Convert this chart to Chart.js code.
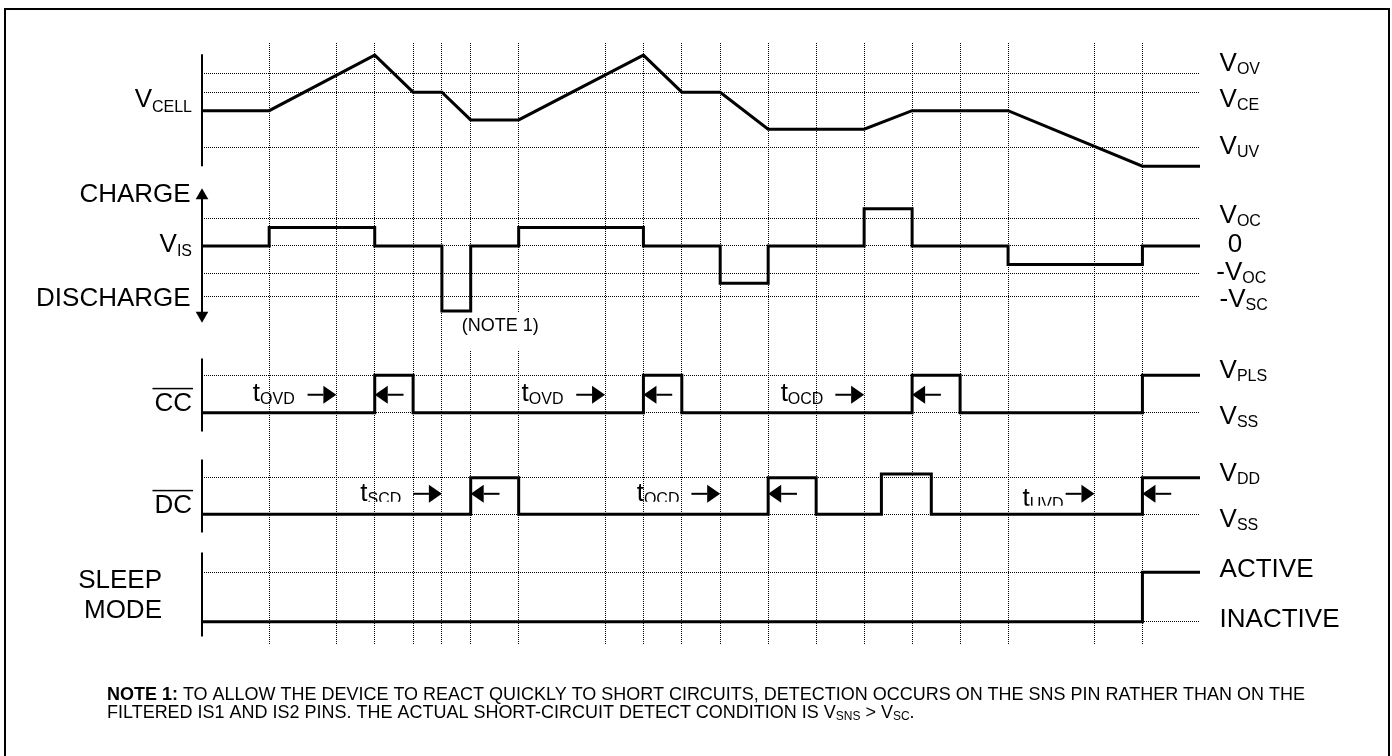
<!DOCTYPE html>
<html>
<head>
<meta charset="utf-8">
<script src="https://cdn.jsdelivr.net/npm/chart.js@4.4.1/dist/chart.umd.min.js"></script>
<style>
  html, body { margin: 0; padding: 0; background: #fff; overflow: hidden; }
  #wrap { position: relative; width: 1392px; height: 756px; }
  #frame { position: absolute; left: 4px; top: 8px; width: 1386px; height: 800px;
           border: 2px solid #000; box-sizing: border-box; pointer-events: none; }
</style>
</head>
<body>
<div id="wrap">
  <canvas id="timing" width="1392" height="756"></canvas>
  <div id="frame"></div>
</div>
<script>
// ---- time base (arbitrary time units) ----
const gridTimes = [7, 14, 18, 22, 25, 28, 33, 42, 46, 50, 54, 59, 64, 69, 74, 79, 84, 93, 98];
const timeEnd = 104;

// ---- V_CELL (piecewise linear) ----
const cellTimes  = [0, 7, 18, 22, 25, 28, 33, 46, 50, 54, 59, 69, 74, 84, 98, 104];
const cellLevels = [2, 2, 5, 3, 3, 1.5, 1.5, 5, 3, 3, 1, 1, 2, 2, -1, -1];
const cellRefLevels = [4, 3, 0];            // V_OV, V_CE, V_UV

// ---- V_IS (each level holds until the next time) ----
const isTimes  = [0, 7, 18, 25, 28, 33, 46, 54, 59, 69, 74, 84, 98, 104];
const isLevels = [0, 2, 0, -7, 0, 2, 0, -4, 0, 4, 0, -2, 0, 0];
const isRefLevels = [3, 0, -3, -5.4];       // V_OC, 0, -V_OC, -V_SC

// ---- logic outputs ----
const ccTimes  = [0, 18, 22, 46, 50, 74, 79, 98, 104];
const ccLevels = [0, 1, 0, 1, 0, 1, 0, 1, 1];
const dcTimes  = [0, 28, 33, 59, 64, 70.8, 76, 98, 104];
const dcLevels = [0, 1, 0, 1, 0, 1.1, 0, 1, 1];
const sleepTimes  = [0, 98, 104];
const sleepLevels = [0, 1, 1];
const logicRefLevels = [1, 0];

// ---- delay arrows [tail, tip] ----
const ccArrows = [[11, 14], [21, 18], [39, 42], [49, 46], [66, 69], [77, 74]];
const dcArrows = [[22, 25], [31, 28], [51, 54], [62, 59], [90, 93], [101, 98]];

// ---- delay labels ----
const ccDelayText  = [['t', 'OVD'], ['t', 'OVD'], ['t', 'OCD']];
const ccDelayTimes = [5.3, 33.3, 60.3];
const dcDelayText  = [['t', 'SCD'], ['t', 'OCD'], ['t', 'UVD']];
const dcDelayTimes = [16.5, 45.3, 85.5];

// ---- axis spans (panel units) ----
const cellAxisSpan  = [5.05, -1];
const isAxisSpan    = [5.43, -7.47];
const ccAxisSpan    = [1.45, -0.5];
const dcAxisSpan    = [1.5, -0.5];
const sleepAxisSpan = [1.4, -0.3];

const FONT = "'Liberation Sans', Arial, sans-serif";
const AREA = { top: 43, bottom: 645, left: 202, right: 1200 };

const leftLabels = [
  { axis: 'yCell', t: -1.04, level: 2.22, main: 'V', sub: 'CELL', subDy: 5 },
  { axis: 'yIs', t: -1.18, level: 4.76, main: 'CHARGE' },
  { axis: 'yIs', t: -1.04, level: -0.61, main: 'V', sub: 'IS', subDy: 4 },
  { axis: 'yIs', t: -1.18, level: -6.45, main: 'DISCHARGE' },
  { axis: 'yCc', t: -1.04, level: 0.05, main: 'CC', overline: true },
  { axis: 'yDc', t: -1.04, level: 0.04, main: 'DC', overline: true },
  { axis: 'ySleep', t: -4.17, level: 0.68, main: 'SLEEP' },
  { axis: 'ySleep', t: -4.17, level: 0.07, main: 'MODE' }
];

const rightLabels = [
  { axis: 'yCell', t: 106.04, level: 4.16, main: 'V', sub: 'OV' },
  { axis: 'yCell', t: 106.04, level: 2.18, main: 'V', sub: 'CE' },
  { axis: 'yCell', t: 106.04, level: -0.34, main: 'V', sub: 'UV' },
  { axis: 'yIs', t: 106.04, level: 2.44, main: 'V', sub: 'OC' },
  { axis: 'yIs', t: 106.9, level: -0.61, main: '0' },
  { axis: 'yIs', t: 105.7, level: -3.66, main: '-V', sub: 'OC' },
  { axis: 'yIs', t: 106.04, level: -6.53, main: '-V', sub: 'SC' },
  { axis: 'yCc', t: 106.04, level: 0.92, main: 'V', sub: 'PLS' },
  { axis: 'yCc', t: 106.04, level: -0.31, main: 'V', sub: 'SS' },
  { axis: 'yDc', t: 106.04, level: 0.92, main: 'V', sub: 'DD' },
  { axis: 'yDc', t: 106.04, level: -0.34, main: 'V', sub: 'SS' },
  { axis: 'ySleep', t: 106.04, level: 0.91, main: 'ACTIVE' },
  { axis: 'ySleep', t: 106.04, level: -0.10, main: 'INACTIVE' }
];

const noteLine1 = 'TO ALLOW THE DEVICE TO REACT QUICKLY TO SHORT CIRCUITS, DETECTION OCCURS ON THE SNS PIN RATHER THAN ON THE';
const noteLine2 = 'FILTERED IS1 AND IS2 PINS. THE ACTUAL SHORT-CIRCUIT DETECT CONDITION IS ';

function pts(times, levels) {
  return times.map((t, i) => ({ x: t, y: levels[i] }));
}

function panelScale(zeroPx, pxPerUnit, refLevels) {
  return {
    type: 'linear',
    position: 'left',
    display: true,
    min: -(AREA.bottom - zeroPx) / pxPerUnit,
    max: (zeroPx - AREA.top) / pxPerUnit,
    ticks: { display: false },
    grid: { color: '#000', lineWidth: 1, drawTicks: false },
    border: { display: false, dash: [1, 1] },
    afterBuildTicks: s => { s.ticks = refLevels.map(v => ({ value: v })); }
  };
}

function trace(data, axis, stepped) {
  return {
    data: data, yAxisID: axis, showLine: true, stepped: stepped || false,
    borderColor: '#000', borderWidth: 3, borderJoinStyle: 'miter',
    pointRadius: 0, clip: false
  };
}

function axisLine(span, axis) {
  return {
    data: [{ x: 0, y: span[0] }, { x: 0, y: span[1] }], yAxisID: axis, showLine: true,
    borderColor: '#000', borderWidth: 2, pointRadius: 0, clip: false
  };
}

// draws "main" + optional subscript, returns nothing
function drawLabel(ctx, x, y, lbl, align, size, subSize) {
  ctx.font = size + 'px ' + FONT;
  const wMain = ctx.measureText(lbl.main).width;
  ctx.font = subSize + 'px ' + FONT;
  const wSub = lbl.sub ? ctx.measureText(lbl.sub).width : 0;
  let x0 = align === 'right' ? x - wMain - wSub : x;
  ctx.textAlign = 'left';
  ctx.textBaseline = 'alphabetic';
  ctx.font = size + 'px ' + FONT;
  ctx.fillText(lbl.main, x0, y);
  if (lbl.sub) {
    ctx.font = subSize + 'px ' + FONT;
    ctx.fillText(lbl.sub, x0 + wMain, y + (lbl.subDy || 3));
  }
  if (lbl.overline) {
    ctx.fillRect(x0 - 2, y - 23, wMain + 3, 1.5);
  }
}

function arrow(ctx, x1, x2, y) {
  const dir = Math.sign(x2 - x1);
  const headLen = 13, headHalf = 9;
  ctx.lineWidth = 2;
  ctx.beginPath();
  ctx.moveTo(x1, y);
  ctx.lineTo(x2 - dir * headLen, y);
  ctx.stroke();
  ctx.beginPath();
  ctx.moveTo(x2, y);
  ctx.lineTo(x2 - dir * headLen, y - headHalf);
  ctx.lineTo(x2 - dir * headLen, y + headHalf);
  ctx.closePath();
  ctx.fill();
}

const annotate = {
  id: 'annotate',
  afterDatasetsDraw(chart) {
    const { ctx, scales } = chart;
    const xs = scales.x;
    ctx.save();
    ctx.fillStyle = '#000';
    ctx.strokeStyle = '#000';

    ccArrows.forEach(a => arrow(ctx, xs.getPixelForValue(a[0]), xs.getPixelForValue(a[1]), scales.yCc.getPixelForValue(0.48)));
    dcArrows.forEach(a => arrow(ctx, xs.getPixelForValue(a[0]), xs.getPixelForValue(a[1]), scales.yDc.getPixelForValue(0.56)));

    // left and right labels
    leftLabels.forEach(l => drawLabel(ctx, xs.getPixelForValue(l.t), scales[l.axis].getPixelForValue(l.level), l, 'right', 26, 16));
    rightLabels.forEach(l => drawLabel(ctx, xs.getPixelForValue(l.t), scales[l.axis].getPixelForValue(l.level), l, 'left', 26, 16));

    // delay labels
    ccDelayText.forEach((d, i) => drawLabel(ctx, xs.getPixelForValue(ccDelayTimes[i]), scales.yCc.getPixelForValue(0.313),
      { main: d[0], sub: d[1], subDy: 3 }, 'left', 26, 16));
    const dcBase = [0.37, 0.37, 0.235];
    const dcClip = [0.344, 0.344, 0.235];
    dcDelayText.forEach((d, i) => {
      ctx.save();
      ctx.beginPath();
      ctx.rect(0, 0, chart.width, scales.yDc.getPixelForValue(dcClip[i]));
      ctx.clip();
      drawLabel(ctx, xs.getPixelForValue(dcDelayTimes[i]), scales.yDc.getPixelForValue(dcBase[i]),
        { main: d[0], sub: d[1], subDy: 3 }, 'left', 26, 16);
      ctx.restore();
    });

    // (NOTE 1) marker with white backing over the grid
    const nx = xs.getPixelForValue(27.08), ny = scales.yIs.getPixelForValue(-9.14);
    ctx.fillStyle = '#fff';
    ctx.fillRect(nx - 4, ny - 18, 88, 37);
    ctx.fillStyle = '#000';
    ctx.font = '18px ' + FONT;
    ctx.fillText('(NOTE 1)', nx, ny);

    // footnote
    const left = 107, base1 = 700, base2 = 718;
    ctx.font = 'bold 18px ' + FONT;
    const wBold = ctx.measureText('NOTE 1: ').width;
    ctx.font = '18px ' + FONT;
    const w1 = wBold + ctx.measureText(noteLine1).width;
    const sx = (1305 - left) / w1;
    ctx.save();
    ctx.translate(left, 0);
    ctx.scale(sx, 1);
    ctx.font = 'bold 18px ' + FONT;
    ctx.fillText('NOTE 1: ', 0, base1);
    ctx.font = '18px ' + FONT;
    ctx.fillText(noteLine1, wBold, base1);
    ctx.fillText(noteLine2, 0, base2);
    let cx = ctx.measureText(noteLine2).width;
    const seq = [['V', 18, 0], ['SNS', 12, 2], [' > V', 18, 0], ['SC', 12, 2], ['.', 18, 0]];
    seq.forEach(s => {
      ctx.font = s[1] + 'px ' + FONT;
      ctx.fillText(s[0], cx, base2 + s[2]);
      cx += ctx.measureText(s[0]).width;
    });
    ctx.restore();
    ctx.restore();
  }
};

const isArrowAxis = {
  data: [{ x: 0, y: isAxisSpan[0] }, { x: 0, y: isAxisSpan[1] }], yAxisID: 'yIs', showLine: true,
  borderColor: '#000', borderWidth: 2, clip: false,
  pointStyle: 'triangle', pointRadius: 7.3, pointRotation: [0, 180],
  pointBackgroundColor: '#000', pointBorderColor: '#000', pointBorderWidth: 0
};

new Chart(document.getElementById('timing'), {
  type: 'scatter',
  data: {
    datasets: [
      trace(pts(cellTimes, cellLevels), 'yCell'),
      trace(pts(isTimes, isLevels), 'yIs', 'before'),
      trace(pts(ccTimes, ccLevels), 'yCc', 'before'),
      trace(pts(dcTimes, dcLevels), 'yDc', 'before'),
      trace(pts(sleepTimes, sleepLevels), 'ySleep', 'before'),
      axisLine(cellAxisSpan, 'yCell'),
      isArrowAxis,
      axisLine(ccAxisSpan, 'yCc'),
      axisLine(dcAxisSpan, 'yDc'),
      axisLine(sleepAxisSpan, 'ySleep')
    ]
  },
  options: {
    responsive: false,
    animation: false,
    events: [],
    layout: { padding: { left: AREA.left, right: 1392 - AREA.right, top: AREA.top, bottom: 756 - AREA.bottom } },
    plugins: { legend: { display: false }, tooltip: { enabled: false } },
    scales: {
      x: {
        type: 'linear', min: 0, max: timeEnd, display: true,
        ticks: { display: false },
        grid: { color: '#000', lineWidth: 1, drawTicks: false },
        border: { display: false, dash: [1, 1] },
        afterBuildTicks: s => { s.ticks = gridTimes.map(v => ({ value: v })); }
      },
      yCell: panelScale(147.7, 18.5, cellRefLevels),
      yIs: panelScale(246, 9.3, isRefLevels),
      yCc: panelScale(412.7, 37.4, logicRefLevels),
      yDc: panelScale(514.3, 36.6, logicRefLevels),
      ySleep: panelScale(621.7, 49.4, logicRefLevels)
    }
  },
  plugins: [annotate]
});
</script>
</body>
</html>
